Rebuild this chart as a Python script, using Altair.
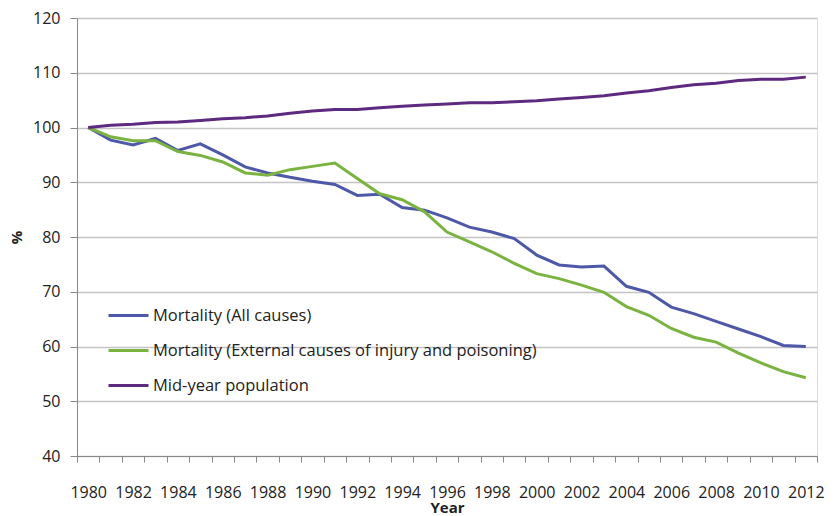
import altair as alt
import pandas as pd

years = list(range(1980, 2013))
all_causes = [100, 97.7, 96.8, 98.0, 95.8, 97.0, 95.0, 92.8, 91.7, 90.9, 90.2, 89.6,
              87.6, 87.8, 85.4, 84.9, 83.5, 81.8, 80.9, 79.7, 76.7, 74.9, 74.5, 74.7,
              71.0, 69.9, 67.2, 66.0, 64.6, 63.2, 61.8, 60.2, 60.0]
external = [100, 98.3, 97.6, 97.6, 95.6, 94.9, 93.7, 91.7, 91.3, 92.3, 92.9, 93.5,
            90.7, 87.9, 86.8, 84.6, 80.9, 79.1, 77.3, 75.2, 73.3, 72.4, 71.2, 69.9,
            67.3, 65.7, 63.3, 61.7, 60.8, 58.8, 57.0, 55.4, 54.3]
population = [100, 100.4, 100.6, 100.9, 101.0, 101.3, 101.6, 101.8, 102.1, 102.6, 103.0,
              103.3, 103.3, 103.6, 103.9, 104.1, 104.3, 104.5, 104.5, 104.7, 104.9, 105.2,
              105.5, 105.8, 106.3, 106.7, 107.3, 107.8, 108.1, 108.6, 108.8, 108.8, 109.2]

series_names = ["Mortality (All causes)",
                "Mortality (External causes of injury and poisoning)",
                "Mid-year population"]
series_colors = ["#4E58A8", "#7AB340", "#5E2A80"]

rows = []
for name, vals in zip(series_names, [all_causes, external, population]):
    for y, v in zip(years, vals):
        rows.append({"Year": y, "Value": v, "Series": name})
df = pd.DataFrame(rows)

tick_vals = [1979.5 + i for i in range(34)]
FONT = "Open Sans"
PLOT_W = 740
half_year = PLOT_W / 33 / 2

chart = alt.Chart(df).mark_line(strokeWidth=3).encode(
    x=alt.X("Year:Q",
            scale=alt.Scale(domain=[1979.5, 2012.5], nice=False, zero=False),
            axis=alt.Axis(values=tick_vals,
                          labelExpr="((datum.value - 1979.5) % 2 == 0 && datum.value < 2012) ? format(datum.value + 0.5, 'd') : ''",
                          labelOffset=half_year, labelOverlap=False, labelFlush=False, labelBound=False,
                          grid=False, tickSize=6, tickColor="#888888", domainColor="#888888",
                          labelFontSize=16, labelColor="#222222", labelPadding=22,
                          title="Year", titleFontSize=15, titleFontWeight="bold",
                          titlePadding=0, titleColor="#222222")),
    y=alt.Y("Value:Q",
            scale=alt.Scale(domain=[40, 120], nice=False, zero=False),
            axis=alt.Axis(values=list(range(40, 121, 10)), grid=True, gridColor="#C4C4C4",
                          gridWidth=1.5, tickSize=7, tickColor="#888888", domainColor="#888888",
                          labelFontSize=16, labelColor="#222222", labelPadding=10,
                          title="%", titleFontSize=15, titleFontWeight="bold",
                          titlePadding=8, titleColor="#222222")),
    color=alt.Color("Series:N",
                    scale=alt.Scale(domain=series_names, range=series_colors),
                    sort=series_names,
                    legend=alt.Legend(orient="none", legendX=30, legendY=276, title=None,
                                      symbolType="stroke", symbolSize=1600, symbolStrokeWidth=3,
                                      labelFontSize=16.5, labelColor="#222222", labelLimit=600,
                                      rowPadding=5, labelOffset=3)),
).properties(
    width=PLOT_W, height=438,
    autosize=alt.AutoSizeParams(type="none"),
    padding={"left": 69, "top": 10, "right": 9, "bottom": 58},
).configure_view(stroke=None).configure(font=FONT)

chart.save("out.html", embed_options={"renderer": "svg", "actions": False})
